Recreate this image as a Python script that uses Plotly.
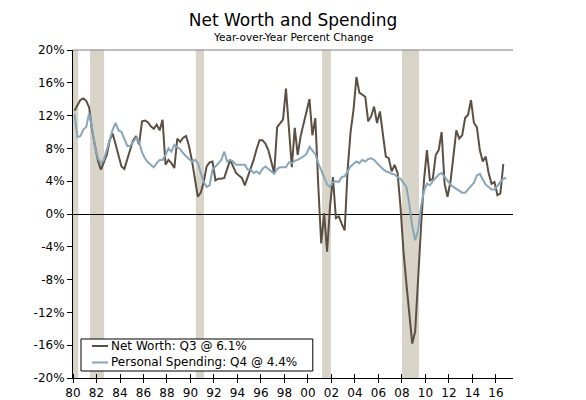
import plotly.graph_objects as go

# Quarterly data, 1980Q1 onward
net_worth = [
    12.6, 13.3, 13.9, 14.1,   # 1980
    13.8, 13.0, 10.2, 8.3,    # 1981
    6.5, 5.4, 6.4, 7.2,       # 1982
    9.0, 9.8, 8.5, 7.0,       # 1983
    5.8, 5.5, 6.8, 7.9,       # 1984
    9.0, 9.5, 8.5, 11.3,      # 1985
    11.4, 11.2, 10.7, 10.4,   # 1986
    10.9, 10.2, 11.5, 6.0,    # 1987
    6.6, 6.2, 5.6, 9.2,       # 1988
    8.8, 9.3, 9.5, 8.3,       # 1989
    6.5, 4.0, 2.1, 2.6,       # 1990
    3.9, 5.8, 6.3, 6.4,       # 1991
    4.1, 4.3, 4.3, 4.4,       # 1992
    5.5, 6.6, 5.8, 5.0,       # 1993
    4.7, 4.4, 3.5, 4.5,       # 1994
    5.5, 6.6, 7.9, 9.0,       # 1995
    9.0, 8.6, 7.8, 6.4,       # 1996
    5.0, 10.6, 11.1, 11.5,    # 1997
    15.3, 10.5, 5.7, 10.5,    # 1998
    7.2, 9.5, 11.0, 12.5,     # 1999
    14.0, 9.6, 11.7, 3.5,     # 2000
    -3.6, 0.1, -4.6, 0.9,     # 2001
    4.5, -0.5, -0.3, -1.2,    # 2002
    -2.0, 5.4, 10.0, 12.7,    # 2003
    16.7, 14.8, 14.5, 14.3,   # 2004
    11.3, 11.9, 13.1, 11.1,   # 2005
    12.5, 9.8, 7.0, 6.8,      # 2006
    5.2, 6.0, 5.0, 0.9,       # 2007
    -4.5, -8.5, -12.0, -15.8, # 2008
    -14.3, -7.3, -1.5, 4.1,   # 2009
    7.8, 4.1, 4.3, 7.2,       # 2010
    7.8, 10.0, 3.7, 2.1,      # 2011
    3.9, 7.0, 10.2, 9.2,      # 2012
    9.6, 11.7, 12.1, 13.9,    # 2013
    11.1, 10.6, 7.8, 6.4,     # 2014
    7.0, 5.0, 3.7, 3.9,       # 2015
    2.3, 2.5, 6.1,            # 2016
]

spending = [
    12.2, 9.4, 9.5, 10.3,     # 1980
    10.6, 12.3, 10.5, 8.2,    # 1981
    6.8, 6.2, 6.6, 7.8,       # 1982
    9.0, 10.3, 11.1, 10.2,    # 1983
    10.0, 9.1, 8.3, 8.3,      # 1984
    8.8, 9.3, 8.8, 7.5,       # 1985
    6.8, 6.3, 6.0, 5.7,       # 1986
    6.2, 6.6, 6.6, 7.2,       # 1987
    8.0, 7.6, 8.4, 8.2,       # 1988
    7.9, 7.4, 7.0, 6.7,       # 1989
    6.4, 6.6, 6.2, 5.0,       # 1990
    3.9, 3.3, 3.5, 5.4,       # 1991
    5.8, 6.2, 6.6, 7.6,       # 1992
    6.4, 6.6, 6.4, 6.0,       # 1993
    6.0, 6.0, 6.0, 5.4,       # 1994
    5.4, 5.0, 5.2, 4.9,       # 1995
    5.5, 5.8, 5.5, 5.1,       # 1996
    4.9, 5.5, 5.7, 5.7,       # 1997
    5.7, 6.3, 6.2, 6.5,       # 1998
    6.6, 6.8, 7.0, 7.3,       # 1999
    8.2, 7.7, 7.3, 6.2,       # 2000
    5.3, 4.3, 3.6, 3.3,       # 2001
    3.9, 4.0, 3.9, 4.5,       # 2002
    4.6, 5.2, 5.8, 6.1,       # 2003
    6.4, 6.2, 6.6, 6.4,       # 2004
    6.7, 6.8, 6.6, 6.2,       # 2005
    5.8, 5.5, 5.2, 5.1,       # 2006
    4.9, 4.8, 4.5, 4.3,       # 2007
    3.8, 3.3, 1.2, -1.5,      # 2008
    -3.2, -2.0, 1.0, 2.8,     # 2009
    3.7, 3.5, 4.0, 4.4,       # 2010
    4.8, 5.0, 4.5, 4.0,       # 2011
    3.6, 3.3, 3.1, 2.8,       # 2012
    2.6, 2.6, 3.0, 3.4,       # 2013
    3.8, 4.7, 4.9, 4.2,       # 2014
    3.6, 3.3, 3.0, 3.0,       # 2015
    3.5, 3.9, 4.3, 4.4,       # 2016
]

series_names = ["Net Worth: Q3 @ 6.1%", "Personal Spending: Q4 @ 4.4%"]
series_colors = ["#5c4f44", "#87a6ba"]

start_year = 1980
recession_start = [1980.0, 1981.45, 1990.45, 2001.2, 2008.0]
recession_end = [1980.45, 1982.65, 1991.15, 2001.95, 2009.45]

y_ticks = [-20, -16, -12, -8, -4, 0, 4, 8, 12, 16, 20]
y_tick_text = ["-20%", "-16%", "-12%", "-8%", "-4%", "0%", "4%", "8%", "12%", "16%", "20%"]
x_ticks = list(range(1980, 2017, 2))
x_tick_text = ["80", "82", "84", "86", "88", "90", "92", "94", "96", "98",
               "00", "02", "04", "06", "08", "10", "12", "14", "16"]


def quarter_dates(n):
    return [start_year + (i // 4) + (i % 4) * 0.25 + 0.125 for i in range(n)]


FONT = "DejaVu Sans, Verdana, sans-serif"

fig = go.Figure()
for vals, name, color in zip([net_worth, spending], series_names, series_colors):
    fig.add_trace(go.Scatter(
        x=quarter_dates(len(vals)), y=vals, mode="lines", name=name,
        line=dict(color=color, width=2), showlegend=False))

for s, e in zip(recession_start, recession_end):
    fig.add_shape(type="rect", xref="x", yref="paper", x0=s, x1=e, y0=0, y1=1,
                  fillcolor="#d8d4c8", line=dict(width=0), layer="below")

# top border
fig.add_shape(type="line", xref="paper", yref="paper", x0=0, x1=1, y0=1, y1=1,
              line=dict(color="#7f7f7f", width=1))

# legend box (drawn manually for compact rows)
fig.add_shape(type="rect", xref="paper", yref="paper", x0=0.0182, x1=0.545,
              y0=0.0213, y1=0.1189, line=dict(color="black", width=1),
              fillcolor="white", layer="above")
annotations = []
for row_y, name, color in zip([0.0976, 0.0473], series_names, series_colors):
    fig.add_shape(type="line", xref="paper", yref="paper", x0=0.0432, x1=0.0795,
                  y0=row_y, y1=row_y, line=dict(color=color, width=2), layer="above")
    annotations.append(dict(text=name, xref="paper", yref="paper", x=0.0818, y=row_y,
                            xanchor="left", yanchor="middle", showarrow=False,
                            font=dict(size=12, family=FONT, color="black")))

annotations.append(dict(text="Year-over-Year Percent Change", xref="paper", yref="paper",
                        x=0.5, y=1.0396, xanchor="center", yanchor="middle",
                        showarrow=False, font=dict(size=10.5, family=FONT)))

# The page body adds an 8px margin, so the figure is sized to fill the rest of the window.
fig.update_layout(
    width=578, height=392,
    margin=dict(l=65, r=73, t=42, b=22, autoexpand=False),
    paper_bgcolor="white", plot_bgcolor="white",
    font=dict(family=FONT, size=12, color="black"),
    title=dict(text="Net Worth and Spending", x=(65 + 220) / 578, xanchor="center",
               y=0.969, yanchor="middle", font=dict(size=17, family=FONT)),
    showlegend=False,
    xaxis=dict(range=[1980, 2017.45], tickvals=x_ticks, ticktext=x_tick_text,
               showgrid=False, zeroline=False, showline=True, linecolor="black",
               linewidth=1, ticks="outside", ticklen=4, tickcolor="black",
               tickfont=dict(size=12), automargin=False,
               minor=dict(ticks="inside", tickvals=x_ticks, ticklen=4,
                          tickcolor="black", showgrid=False)),
    yaxis=dict(range=[-20, 20], tickvals=y_ticks, ticktext=y_tick_text,
               showgrid=False, zeroline=True, zerolinecolor="black", zerolinewidth=1,
               showline=True, linecolor="black", linewidth=1, ticks="outside",
               ticklen=5, tickcolor="black", tickfont=dict(size=12), automargin=False),
    yaxis2=dict(range=[-20, 20], tickvals=y_ticks, ticktext=y_tick_text,
                overlaying="y", side="right", showgrid=False, zeroline=False,
                showline=True, linecolor="black", linewidth=1, ticks="outside",
                ticklen=5, tickcolor="black", tickfont=dict(size=12), automargin=False),
    annotations=annotations,
)

fig.write_html("out.html")
